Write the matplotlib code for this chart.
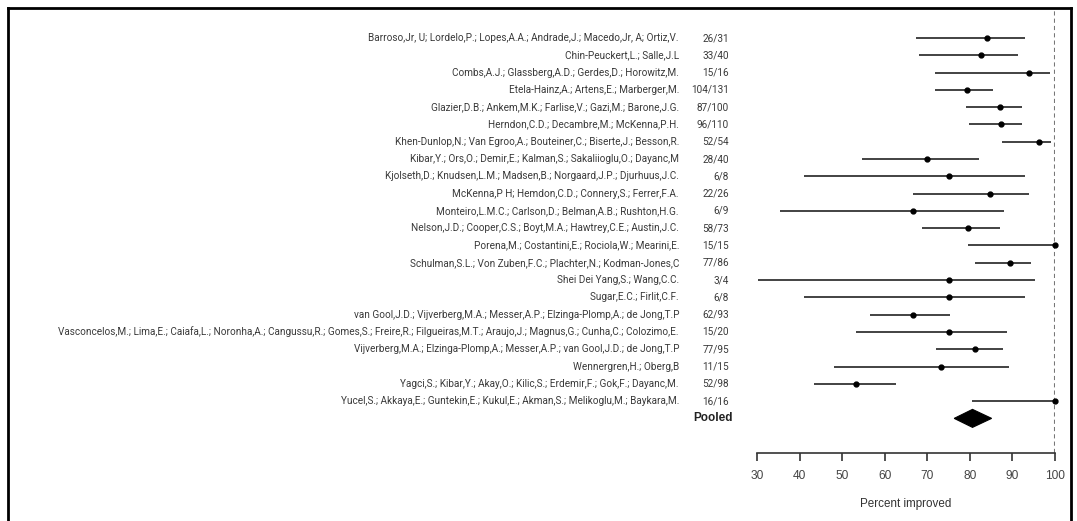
import matplotlib
matplotlib.use("Agg")
import matplotlib.pyplot as plt
from matplotlib.transforms import blended_transform_factory
from matplotlib.lines import Line2D
from matplotlib.patches import Polygon

# Studies, responder counts and percent improved with 95% intervals
studies = [
    "Barroso,Jr, U; Lordelo,P.; Lopes,A.A.; Andrade,J.; Macedo,Jr, A; Ortiz,V.",
    "Chin-Peuckert,L.; Salle,J.L",
    "Combs,A.J.; Glassberg,A.D.; Gerdes,D.; Horowitz,M.",
    "Etela-Hainz,A.; Artens,E.; Marberger,M.",
    "Glazier,D.B.; Ankem,M.K.; Farlise,V.; Gazi,M.; Barone,J.G.",
    "Herndon,C.D.; Decambre,M.; McKenna,P.H.",
    "Khen-Dunlop,N.; Van Egroo,A.; Bouteiner,C.; Biserte,J.; Besson,R.",
    "Kibar,Y.; Ors,O.; Demir,E.; Kalman,S.; Sakaliioglu,O.; Dayanc,M",
    "Kjolseth,D.; Knudsen,L.M.; Madsen,B.; Norgaard,J.P.; Djurhuus,J.C.",
    "McKenna,P H; Hemdon,C.D.; Connery,S.; Ferrer,F.A.",
    "Monteiro,L.M.C.; Carlson,D.; Belman,A.B.; Rushton,H.G.",
    "Nelson,J.D.; Cooper,C.S.; Boyt,M.A.; Hawtrey,C.E.; Austin,J.C.",
    "Porena,M.; Costantini,E.; Rociola,W.; Mearini,E.",
    "Schulman,S.L.; Von Zuben,F.C.; Plachter,N.; Kodman-Jones,C",
    "Shei Dei Yang,S.; Wang,C.C.",
    "Sugar,E.C.; Firlit,C.F.",
    "van Gool,J.D.; Vijverberg,M.A.; Messer,A.P.; Elzinga-Plomp,A.; de Jong,T.P",
    "Vasconcelos,M.; Lima,E.; Caiafa,L.; Noronha,A.; Cangussu,R.; Gomes,S.; Freire,R.; Filgueiras,M.T.; Araujo,J.; Magnus,G.; Cunha,C.; Colozimo,E.",
    "Vijverberg,M.A.; Elzinga-Plomp,A.; Messer,A.P.; van Gool,J.D.; de Jong,T.P",
    "Wennergren,H.; Oberg,B",
    "Yagci,S.; Kibar,Y.; Akay,O.; Kilic,S.; Erdemir,F.; Gok,F.; Dayanc,M.",
    "Yucel,S.; Akkaya,E.; Guntekin,E.; Kukul,E.; Akman,S.; Melikoglu,M.; Baykara,M.",
]
counts = ["26/31", "33/40", "15/16", "104/131", "87/100", "96/110", "52/54",
          "28/40", "6/8", "22/26", "6/9", "58/73", "15/15", "77/86", "3/4",
          "6/8", "62/93", "15/20", "77/95", "11/15", "52/98", "16/16"]
estimate = [83.9, 82.5, 93.8, 79.4, 87.0, 87.3, 96.3, 70.0, 75.0, 84.6, 66.7,
            79.5, 100.0, 89.5, 75.0, 75.0, 66.7, 75.0, 81.1, 73.3, 53.1, 100.0]
ci_low = [67.4, 68.0, 71.7, 71.7, 79.0, 79.7, 87.5, 54.6, 40.9, 66.5, 35.4,
          68.8, 79.6, 81.3, 30.1, 40.9, 56.6, 53.1, 72.0, 48.0, 43.3, 80.6]
ci_high = [92.9, 91.3, 98.9, 85.4, 92.2, 92.3, 99.0, 82.1, 92.9, 93.9, 87.9,
           87.1, 100.0, 94.4, 95.4, 92.9, 75.4, 88.8, 87.7, 89.1, 62.7, 100.0]
pooled_label = "Pooled"
pooled_est, pooled_low, pooled_high = 80.6, 76.3, 85.1
xticks = [30, 40, 50, 60, 70, 80, 90, 100]
xlabel = "Percent improved"

W, H = 1077, 521
fig = plt.figure(figsize=(W / 100, H / 100), dpi=100)
fig.patch.set_facecolor("white")

# plotting area: 30..100 on x, one row per study, axis line below the pooled row
x0_px, x1_px = 757.3, 1055.0
top_px, axis_px = 8.0, 453.0
ax = fig.add_axes([x0_px / W, (H - axis_px) / H,
                   (x1_px - x0_px) / W, (axis_px - top_px) / H])
row0_px, row_step = 38.0, 17.29
ax.set_xlim(30, 100)
ax.set_ylim((axis_px - row0_px) / row_step, (top_px - row0_px) / row_step)
ax.set_facecolor("none")
for s in ("top", "left", "right"):
    ax.spines[s].set_visible(False)
ax.spines["bottom"].set_color("#333333")
ax.spines["bottom"].set_linewidth(1.2)
ax.set_yticks([])
ax.set_xticks(xticks)
ax.set_xticklabels([str(t) for t in xticks], fontfamily="Liberation Sans",
                   fontsize=8.6, color="#444444")
ax.tick_params(axis="x", direction="out", length=6, width=1.2, color="#333333",
               pad=6)
ax.set_xlabel(xlabel, fontsize=8.4, color="#333333", family="Liberation Sans",
              labelpad=12)

# reference line at 100 %
ax.axvline(100, color="#777777", lw=1.5, ls=(0, (2.0, 1.5)), zorder=1)

for i in range(len(studies)):
    ax.plot([ci_low[i], ci_high[i]], [i, i], color="#222222", lw=1.2,
            solid_capstyle="butt", clip_on=False, zorder=2)
    ax.plot(estimate[i], i, "o", color="black", ms=3.5, clip_on=False, zorder=3)

# pooled estimate diamond
prow = len(studies)
half_h = 9.0 / row_step
ax.add_patch(Polygon([(pooled_low, prow), (pooled_est, prow - half_h),
                      (pooled_high, prow), (pooled_est, prow + half_h)],
                     closed=True, facecolor="black", edgecolor="black",
                     lw=0.8, clip_on=False, zorder=3))

# study names and counts to the left of the plot
trans = blended_transform_factory(fig.transFigure, ax.transData)
name_font = dict(family=["Roboto", "DejaVu Sans"], fontsize=7.2,
                 color="#3a3a3a", va="center", ha="right")
for i, (name, cnt) in enumerate(zip(studies, counts)):
    ax.text(679 / W, i, name, transform=trans, **name_font)
    ax.text(729 / W, i, cnt, transform=trans, **name_font)
ax.text(733 / W, prow, pooled_label, transform=trans, ha="right", va="center",
        fontsize=8.5, fontweight="bold", family="Liberation Sans", color="#222222")

# outer frame (left, top, right)
frame_kw = dict(transform=fig.transFigure, color="black", lw=2.0)
fig.add_artist(Line2D([7.5 / W, 7.5 / W], [0, 1 - 7.5 / H], **frame_kw))
fig.add_artist(Line2D([7.5 / W, 1070.5 / W], [1 - 7.5 / H, 1 - 7.5 / H], **frame_kw))
fig.add_artist(Line2D([1070.5 / W, 1070.5 / W], [0, 1 - 7.5 / H], **frame_kw))

fig.savefig("out.png", dpi=100, facecolor="white")
